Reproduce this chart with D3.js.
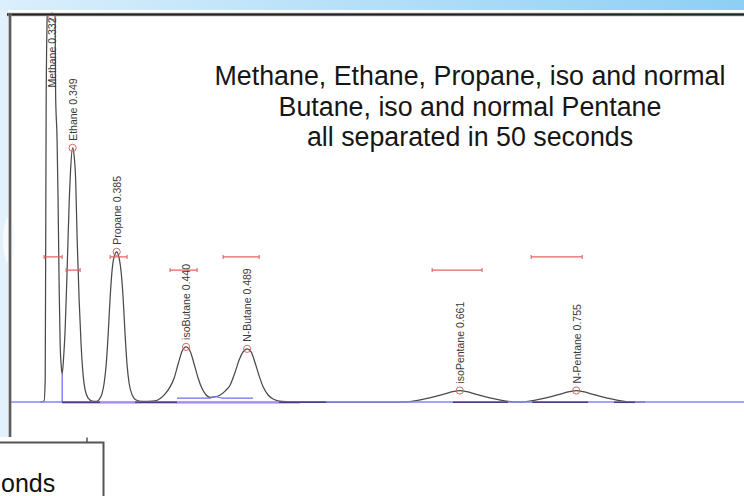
<!DOCTYPE html>
<html><head><meta charset="utf-8">
<script src="https://cdn.jsdelivr.net/npm/d3@7"></script>
<style>html,body{margin:0;padding:0;background:#fff;overflow:hidden}</style>
</head><body><svg id="c" width="744" height="496"></svg>
<script>
// ---- data (time in minutes, signal in arbitrary units) ----
const traceTime = [0.3223,0.3255,0.3264,0.3268,0.3272,0.3280,0.3296,0.3320,0.3336,0.3344,0.3348,0.3360,0.3368,0.3377,0.3385,0.3393,0.3401,
  0.3413,0.3425,0.3441,0.3457,0.3469,0.3485,0.3498,0.3510,0.3522,0.3538,0.3554,0.3570,0.3586,0.3611,0.3643,0.3675,
  0.3699,0.3724,0.3740,0.3756,0.3772,0.3788,0.3804,0.3820,0.3841,0.3861,0.3877,0.3893,0.3909,0.3925,0.3941,0.3966,0.3998,0.4046,
  0.4151,0.4192,0.4232,0.4272,0.4305,0.4337,0.4369,0.4401,0.4434,0.4466,0.4498,0.4531,0.4563,0.4595,0.4636,0.4676,
  0.4716,0.4757,0.4797,0.4829,0.4861,0.4894,0.4926,0.4958,0.4991,0.5023,0.5063,0.5112,0.5176,0.5321,0.5483,
  0.6166,0.6247,0.6328,0.6408,0.6489,0.6553,0.6610,0.6667,0.6731,0.6812,0.6892,0.6973,0.7054,
  0.7106,0.7187,0.7268,0.7348,0.7429,0.7494,0.7550,0.7606,0.7671,0.7752,0.7832,0.7913,0.7994,0.8106];
const traceSignal = [0,0.26,5.7,39.2,77.8,100,116.5,123,113.9,100,79.6,67.5,52.1,28.9,14.7,9.5,7.2,
  11.6,18.6,34.0,50.8,59.8,65.5,63.4,57.2,41.8,26.3,14.7,7.0,3.1,1.0,0.26,0.13,
  0.64,2.3,4.9,9.5,17.3,26.8,34.0,37.4,38.7,37.1,33.5,26.8,17.3,9.5,4.9,1.8,0.5,0.13,
  0.26,0.9,2.1,3.9,6.2,9.8,13.1,14.2,13.1,9.8,6.2,3.4,1.8,1.2,1.3,1.8,
  2.8,4.4,7.7,10.8,12.9,13.7,12.9,10.1,6.7,3.9,1.8,0.64,0.13,0,0,
  0,0.3,0.8,1.4,2.1,2.65,2.96,2.65,2.1,1.4,0.8,0.3,0,
  0,0.3,0.8,1.4,2.1,2.65,2.96,2.65,2.1,1.4,0.8,0.3,0,0];

const peakNames = ["Methane","Ethane","Propane","isoButane","N-Butane","isoPentane","N-Pentane"];
const peakLabelTimes = ["0.332","0.349","0.385","0.440","0.489","0.661","0.755"];
const peakTimes = [0.332,0.3485,0.3841,0.4401,0.4894,0.661,0.755];
const peakHeights = [123,65.5,38.7,14.2,13.7,2.96,2.96];

const widthStart = [0.3255,0.3433,0.3788,0.4272,0.4700,0.6387,0.7186];
const widthEnd   = [0.3401,0.3546,0.3925,0.4490,0.4991,0.6790,0.7598];
const widthLevel = [37.4,34.0,37.4,34.0,37.4,34.0,37.4];

const darkBaseStart = [0.3401,0.3989,0.5151,0.6555,0.7194,0.7855];
const darkBaseEnd   = [0.3707,0.4328,0.5530,0.6999,0.7646,0.8024];
const redBaseTime = [0.3401,0.5321];
const redBaseSignal = [-0.26,-0.26];
const raisedBaseTime = [0.4328,0.4595,0.4640,0.4692,0.4941];
const raisedBaseSignal = [1.0,1.0,1.4,1.0,1.0];
const dropTime = 0.3401, dropSignal = 7.2;

const titleLines = ["Methane, Ethane, Propane, iso and normal","Butane, iso and normal Pentane","all separated in 50 seconds"];
const cornerText = "onds";

// ---- drawing ----
const svg = d3.select("#c");
const x = d3.scaleLinear().domain([0.298, 0.8904]).range([10, 744]);
const y = d3.scaleLinear().domain([0, 100]).range([402, 14]);

const defs = svg.append("defs");
const grad = defs.append("linearGradient").attr("id","topg").attr("x1","0%").attr("x2","100%");
grad.append("stop").attr("offset","0%").attr("stop-color","#dbeffc");
grad.append("stop").attr("offset","100%").attr("stop-color","#8dcff5");
defs.append("clipPath").attr("id","plot").append("rect").attr("x",11).attr("y",14).attr("width",733).attr("height",420);

svg.append("rect").attr("x",0).attr("y",0).attr("width",8).attr("height",437).attr("fill","#e3f1fc");
svg.append("rect").attr("x",0).attr("y",0).attr("width",744).attr("height",10).attr("fill","url(#topg)");
svg.append("ellipse").attr("cx",9).attr("cy",240).attr("rx",6).attr("ry",23).attr("fill","#f7fbfe");

const g = svg.append("g").attr("clip-path","url(#plot)");
const trace = traceTime.map((t,i)=>[t, traceSignal[i]]);
const line = d3.line().x(d=>x(d[0])).y(d=>y(d[1])).curve(d3.curveMonotoneX);
const straight = d3.line().x(d=>x(d[0])).y(d=>y(d[1]));

g.append("path").attr("d", line(trace)).attr("fill","none").attr("stroke","#4a4a4a").attr("stroke-width",1.25);
g.append("path").attr("d", straight(redBaseTime.map((t,i)=>[t, redBaseSignal[i]])))
  .attr("fill","none").attr("stroke","#c87a7a").attr("stroke-width",1);
g.append("line").attr("x1",10).attr("x2",744).attr("y1",y(0)).attr("y2",y(0))
  .attr("stroke","#8585ff").attr("stroke-width",1.5);
g.append("path").attr("d", straight(raisedBaseTime.map((t,i)=>[t, raisedBaseSignal[i]])))
  .attr("fill","none").attr("stroke","#6f6ff5").attr("stroke-width",1.1);
darkBaseStart.forEach((t,i)=>{
  g.append("line").attr("x1",x(t)).attr("x2",x(darkBaseEnd[i])).attr("y1",y(0)+0.3).attr("y2",y(0)+0.3)
    .attr("stroke","#4b3a86").attr("stroke-width",1.5);
});
g.append("line").attr("x1",x(dropTime)).attr("x2",x(dropTime)).attr("y1",y(0)).attr("y2",y(dropSignal))
  .attr("stroke","#5a5aff").attr("stroke-width",1.1);

// width bars
const red = "#e66262";
widthStart.forEach((t,i)=>{
  const x0 = x(t), x1 = x(widthEnd[i]), yy = y(widthLevel[i]);
  g.append("path").attr("d",`M${x0},${yy-2}V${yy+2}M${x0},${yy}H${x1}M${x1},${yy-2}V${yy+2}`)
    .attr("fill","none").attr("stroke",red).attr("stroke-width",1.1);
});

// markers + labels
const topY = 16.5;
peakTimes.forEach((t,i)=>{
  const cx = x(t);
  let cy = y(peakHeights[i]);
  const clamped = cy < topY;
  if (clamped) cy = topY;
  svg.append("circle").attr("cx",cx).attr("cy",cy).attr("r",3.6)
    .attr("fill","none").attr("stroke",red).attr("stroke-width",1);
  const ly = clamped ? cy + 1 : cy - 7;
  svg.append("text")
    .attr("transform",`translate(${cx+0.5},${ly}) rotate(-90)`)
    .attr("text-anchor", clamped ? "end" : "start")
    .attr("dy","0.36em")
    .attr("font-family","'Liberation Sans', Arial, sans-serif")
    .attr("font-size",10.5).attr("fill","#3a3a3a")
    .text(peakNames[i] + " " + peakLabelTimes[i]);
});

// frame
svg.append("line").attr("x1",7).attr("x2",744).attr("y1",14.5).attr("y2",14.5).attr("stroke","#9a9a9a").attr("stroke-width",3.5);
svg.append("line").attr("x1",7).attr("x2",744).attr("y1",14.5).attr("y2",14.5).attr("stroke","#222").attr("stroke-width",1.8);
svg.append("line").attr("x1",10).attr("x2",10).attr("y1",13).attr("y2",437).attr("stroke","#8a8a8a").attr("stroke-width",3);
svg.append("line").attr("x1",10).attr("x2",10).attr("y1",13).attr("y2",437).attr("stroke","#444").attr("stroke-width",1.3);

// title
svg.append("g").selectAll("text").data(titleLines).join("text")
  .attr("x",470).attr("y",(d,i)=>85 + i*30.7)
  .attr("text-anchor","middle")
  .attr("font-family","'Liberation Sans', Arial, sans-serif")
  .attr("font-size",26.8).attr("fill","#161616")
  .text(d=>d);

// bottom-left box
svg.append("path").attr("d","M0,442.5H103.5V496").attr("fill","none").attr("stroke","#555").attr("stroke-width",2);
svg.append("line").attr("x1",87).attr("x2",87).attr("y1",437.5).attr("y2",442).attr("stroke","#555").attr("stroke-width",1.5);
svg.append("text").attr("x",1).attr("y",492)
  .attr("font-family","'Liberation Sans', Arial, sans-serif")
  .attr("font-size",25).attr("fill","#111").text(cornerText);
</script></body></html>
